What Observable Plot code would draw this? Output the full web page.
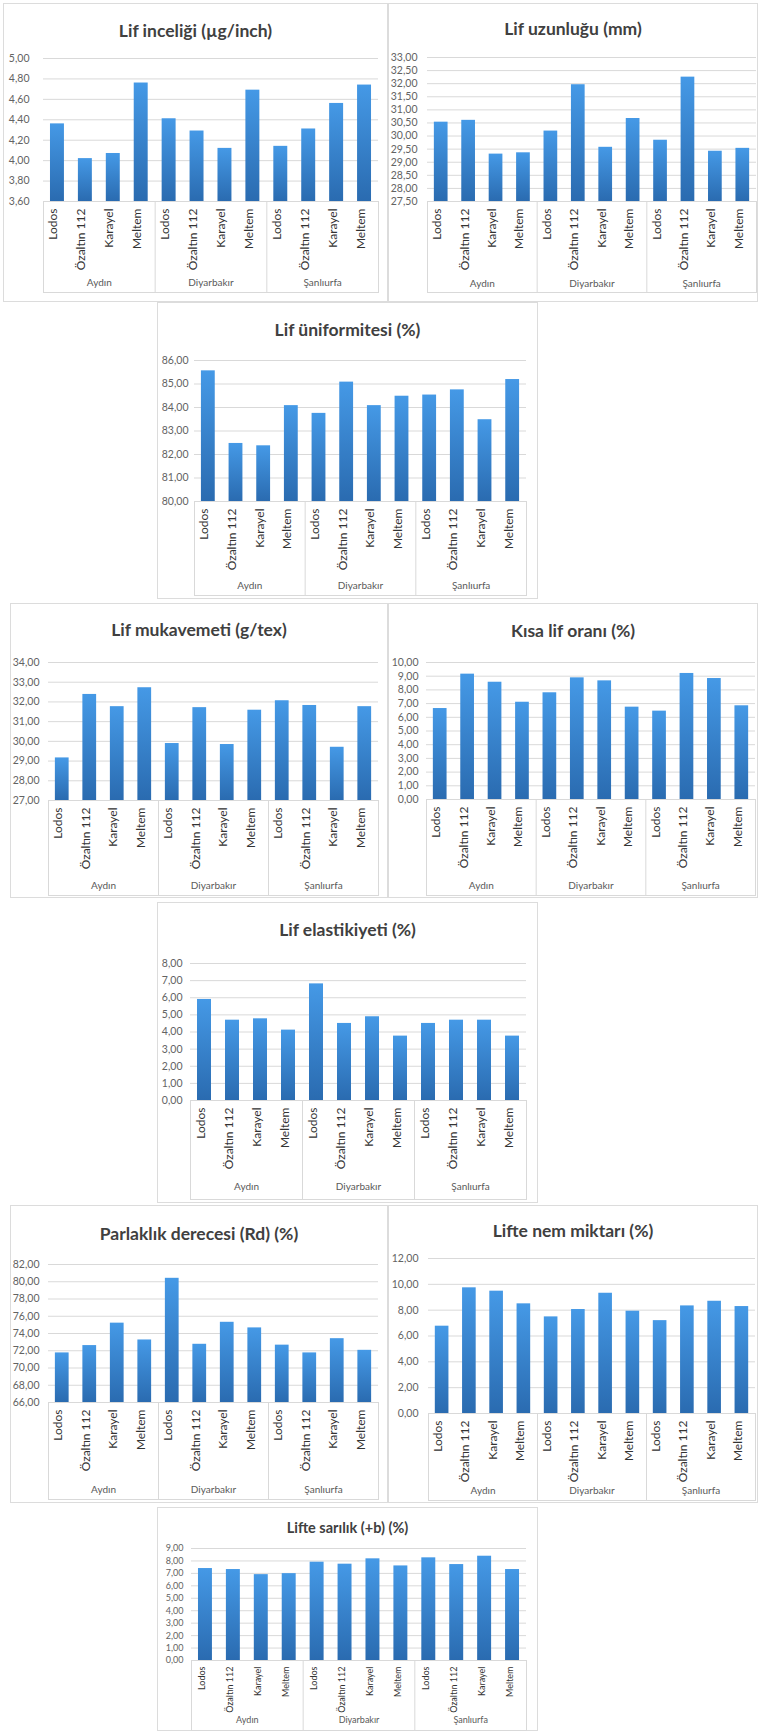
<!DOCTYPE html>
<html>
<head>
<meta charset="utf-8">
<script src="https://cdn.jsdelivr.net/npm/d3@7"></script>
<script src="https://cdn.jsdelivr.net/npm/@observablehq/plot@0.6"></script>
<style>
  body { margin: 0; background: #fff; }
  #page { position: relative; width: 759px; height: 1731px; overflow: hidden; font-family: Lato, "Open Sans", sans-serif; }
  .panel { position: absolute; background: #fff; outline: 1px solid #dcdcdc; outline-offset: -1px; }
  .panel svg { position: absolute; left: 0; top: 0; overflow: visible; }
  .title { position: absolute; left: 0; width: 100%; text-align: center; font-weight: bold; color: #404040; white-space: nowrap; line-height: 20px; }
</style>
</head>
<body>
<svg width="0" height="0" style="position:absolute">
  <defs>
    <linearGradient id="barFill" x1="0" y1="0" x2="0" y2="1">
      <stop offset="0" stop-color="#4599e6"/>
      <stop offset="1" stop-color="#2a6bb0"/>
    </linearGradient>
  </defs>
</svg>
<div id="page"></div>
<script>
// Cotton fibre properties of four varieties grown in three provinces
const regions = ["Aydın", "Diyarbakır", "Şanlıurfa"];
const varieties = ["Lodos", "Özaltın 112", "Karayel", "Meltem"];

// values are listed region by region, varieties in the order above
const finenessValues   = [4.36, 4.02, 4.07, 4.76, 4.41, 4.29, 4.12, 4.69, 4.14, 4.31, 4.56, 4.74];
const lengthValues     = [30.53, 30.60, 29.31, 29.36, 30.19, 31.96, 29.57, 30.67, 29.84, 32.25, 29.42, 29.53];
const uniformityValues = [85.56, 82.47, 82.37, 84.08, 83.75, 85.08, 84.08, 84.48, 84.53, 84.75, 83.48, 85.19];
const strengthValues   = [29.16, 32.38, 31.76, 32.72, 29.89, 31.71, 29.84, 31.58, 32.06, 31.82, 29.70, 31.76];
const shortFibreValues = [6.64, 9.15, 8.56, 7.10, 7.79, 8.88, 8.66, 6.74, 6.45, 9.20, 8.83, 6.84];
const elongationValues = [5.90, 4.69, 4.77, 4.11, 6.81, 4.50, 4.89, 3.76, 4.50, 4.69, 4.69, 3.76];
const rdValues         = [71.75, 72.60, 75.20, 73.25, 80.40, 72.75, 75.30, 74.65, 72.65, 71.75, 73.40, 72.05];
const moistureValues   = [6.76, 9.73, 9.47, 8.49, 7.48, 8.05, 9.31, 7.92, 7.19, 8.33, 8.69, 8.28];
const yellownessValues = [7.39, 7.31, 6.90, 6.98, 7.90, 7.74, 8.17, 7.60, 8.25, 7.71, 8.38, 7.31];

// y-axis tick values
const finenessTicks   = [3.6, 3.8, 4.0, 4.2, 4.4, 4.6, 4.8, 5.0];
const lengthTicks     = [27.5, 28, 28.5, 29, 29.5, 30, 30.5, 31, 31.5, 32, 32.5, 33];
const uniformityTicks = [80, 81, 82, 83, 84, 85, 86];
const strengthTicks   = [27, 28, 29, 30, 31, 32, 33, 34];
const shortFibreTicks = [0, 1, 2, 3, 4, 5, 6, 7, 8, 9, 10];
const elongationTicks = [0, 1, 2, 3, 4, 5, 6, 7, 8];
const rdTicks         = [66, 68, 70, 72, 74, 76, 78, 80, 82];
const moistureTicks   = [0, 2, 4, 6, 8, 10, 12];
const yellownessTicks = [0, 1, 2, 3, 4, 5, 6, 7, 8, 9];

// panel layout: box = [left, top, width, height], plot = [left, top, right, bottom] (page px)
const charts = [
  {title: "Lif inceliği (µg/inch)", values: finenessValues, ticks: finenessTicks,
   box: [3, 3, 385, 299], plot: [43, 58, 378, 201], catBottom: 293, groupY: 285, tickRight: 29, titleY: 31},
  {title: "Lif uzunluğu (mm)", values: lengthValues, ticks: lengthTicks,
   box: [388, 3, 370, 299], plot: [427, 57, 756, 201], catBottom: 293, groupY: 286, tickRight: 417, titleY: 29},
  {title: "Lif üniformitesi (%)", values: uniformityValues, ticks: uniformityTicks,
   box: [157, 302, 381, 297], plot: [194, 360, 526, 501], catBottom: 596, groupY: 588, tickRight: 188, titleY: 330},
  {title: "Lif mukavemeti (g/tex)", values: strengthValues, ticks: strengthTicks,
   box: [10, 603, 378, 295], plot: [48, 662, 378, 800], catBottom: 896, groupY: 888, tickRight: 39, titleY: 630},
  {title: "Kısa lif oranı (%)", values: shortFibreValues, ticks: shortFibreTicks,
   box: [388, 603, 370, 295], plot: [426, 662, 755, 799], catBottom: 896, groupY: 888, tickRight: 418, titleY: 631},
  {title: "Lif elastikiyeti (%)", values: elongationValues, ticks: elongationTicks,
   box: [157, 902, 381, 301], plot: [190, 963, 526, 1100], catBottom: 1200, groupY: 1189, tickRight: 182, titleY: 930},
  {title: "Parlaklık derecesi (Rd) (%)", values: rdValues, ticks: rdTicks,
   box: [10, 1205, 378, 298], plot: [48, 1264, 378, 1402], catBottom: 1500, groupY: 1492, tickRight: 39, titleY: 1234},
  {title: "Lifte nem miktarı (%)", values: moistureValues, ticks: moistureTicks,
   box: [388, 1205, 370, 298], plot: [428, 1258, 755, 1413], catBottom: 1501, groupY: 1493, tickRight: 418, titleY: 1231},
  {title: "Lifte sarılık (+b) (%)", values: yellownessValues, ticks: yellownessTicks,
   box: [157, 1507, 381, 224], plot: [191, 1548, 526, 1660], catBottom: 1731, groupY: 1722, tickRight: 183, titleY: 1528, small: true}
];

const cells = regions.flatMap((region, r) =>
  varieties.map((variety, v) => ({region, variety, pos: r * varieties.length + v})));
const groupEdges = regions.map((_, r) => r * varieties.length).concat([cells.length]);
const fmt = d => d.toFixed(2).replace(".", ",");

const page = document.getElementById("page");

for (const c of charts) {
  const [bx, by, bw, bh] = c.box;
  const [px0, py0, px1, py1] = c.plot;
  const rows = cells.map((cell, i) => ({...cell, value: c.values[i]}));
  const y0 = c.ticks[0], y1 = c.ticks[c.ticks.length - 1];
  const grid = "#d9d9d9";
  const tickSize = c.small ? 9 : 10.5;
  const catSize = c.small ? 9 : 12;
  const groupSize = c.small ? 9 : 10;

  const panel = document.createElement("div");
  panel.className = "panel";
  Object.assign(panel.style, {left: bx + "px", top: by + "px", width: bw + "px", height: bh + "px"});

  const title = document.createElement("div");
  title.className = "title";
  title.textContent = c.title;
  title.style.fontSize = (c.small ? 14.5 : 17.5) + "px";
  title.style.top = (c.titleY - by - 10) + "px";

  const chart = Plot.plot({
    width: bw,
    height: bh,
    marginLeft: px0 - bx,
    marginRight: bx + bw - px1,
    marginTop: py0 - by,
    marginBottom: by + bh - py1,
    style: {fontFamily: "Lato, 'Open Sans', sans-serif", background: "transparent", overflow: "visible"},
    x: {domain: [0, cells.length], axis: null},
    y: {domain: [y0, y1], axis: null},
    marks: [
      Plot.ruleY(c.ticks, {stroke: grid, strokeWidth: 1}),
      Plot.rect(rows, {
        x1: d => d.pos + 0.25, x2: d => d.pos + 0.75,
        y1: y0, y2: "value",
        fill: "url(#barFill)"
      }),
      Plot.text(c.ticks, {
        y: d => d, text: fmt, frameAnchor: "left", textAnchor: "end",
        dx: c.tickRight - px0, fontSize: tickSize, fill: "#636363"
      }),
      Plot.ruleX(groupEdges, {
        y1: y0, y2: y0, insetBottom: -(c.catBottom - py1), stroke: grid
      }),
      Plot.ruleY([y0], {dy: c.catBottom - py1 - 1, stroke: grid}),
      Plot.text(rows, {
        x: d => d.pos + 0.5, text: "variety", frameAnchor: "bottom",
        rotate: -90, textAnchor: "end", dy: c.small ? 6 : 7,
        fontSize: catSize, fill: "#333333", letterSpacing: c.small ? "0.2px" : "0.6px"
      }),
      Plot.text(regions, {
        x: (d, i) => groupEdges[i] + varieties.length / 2, text: d => d,
        frameAnchor: "bottom", dy: c.groupY - py1,
        fontSize: groupSize, fill: "#595959"
      })
    ]
  });

  panel.appendChild(chart);
  panel.appendChild(title);
  page.appendChild(panel);
}
</script>
</body>
</html>
